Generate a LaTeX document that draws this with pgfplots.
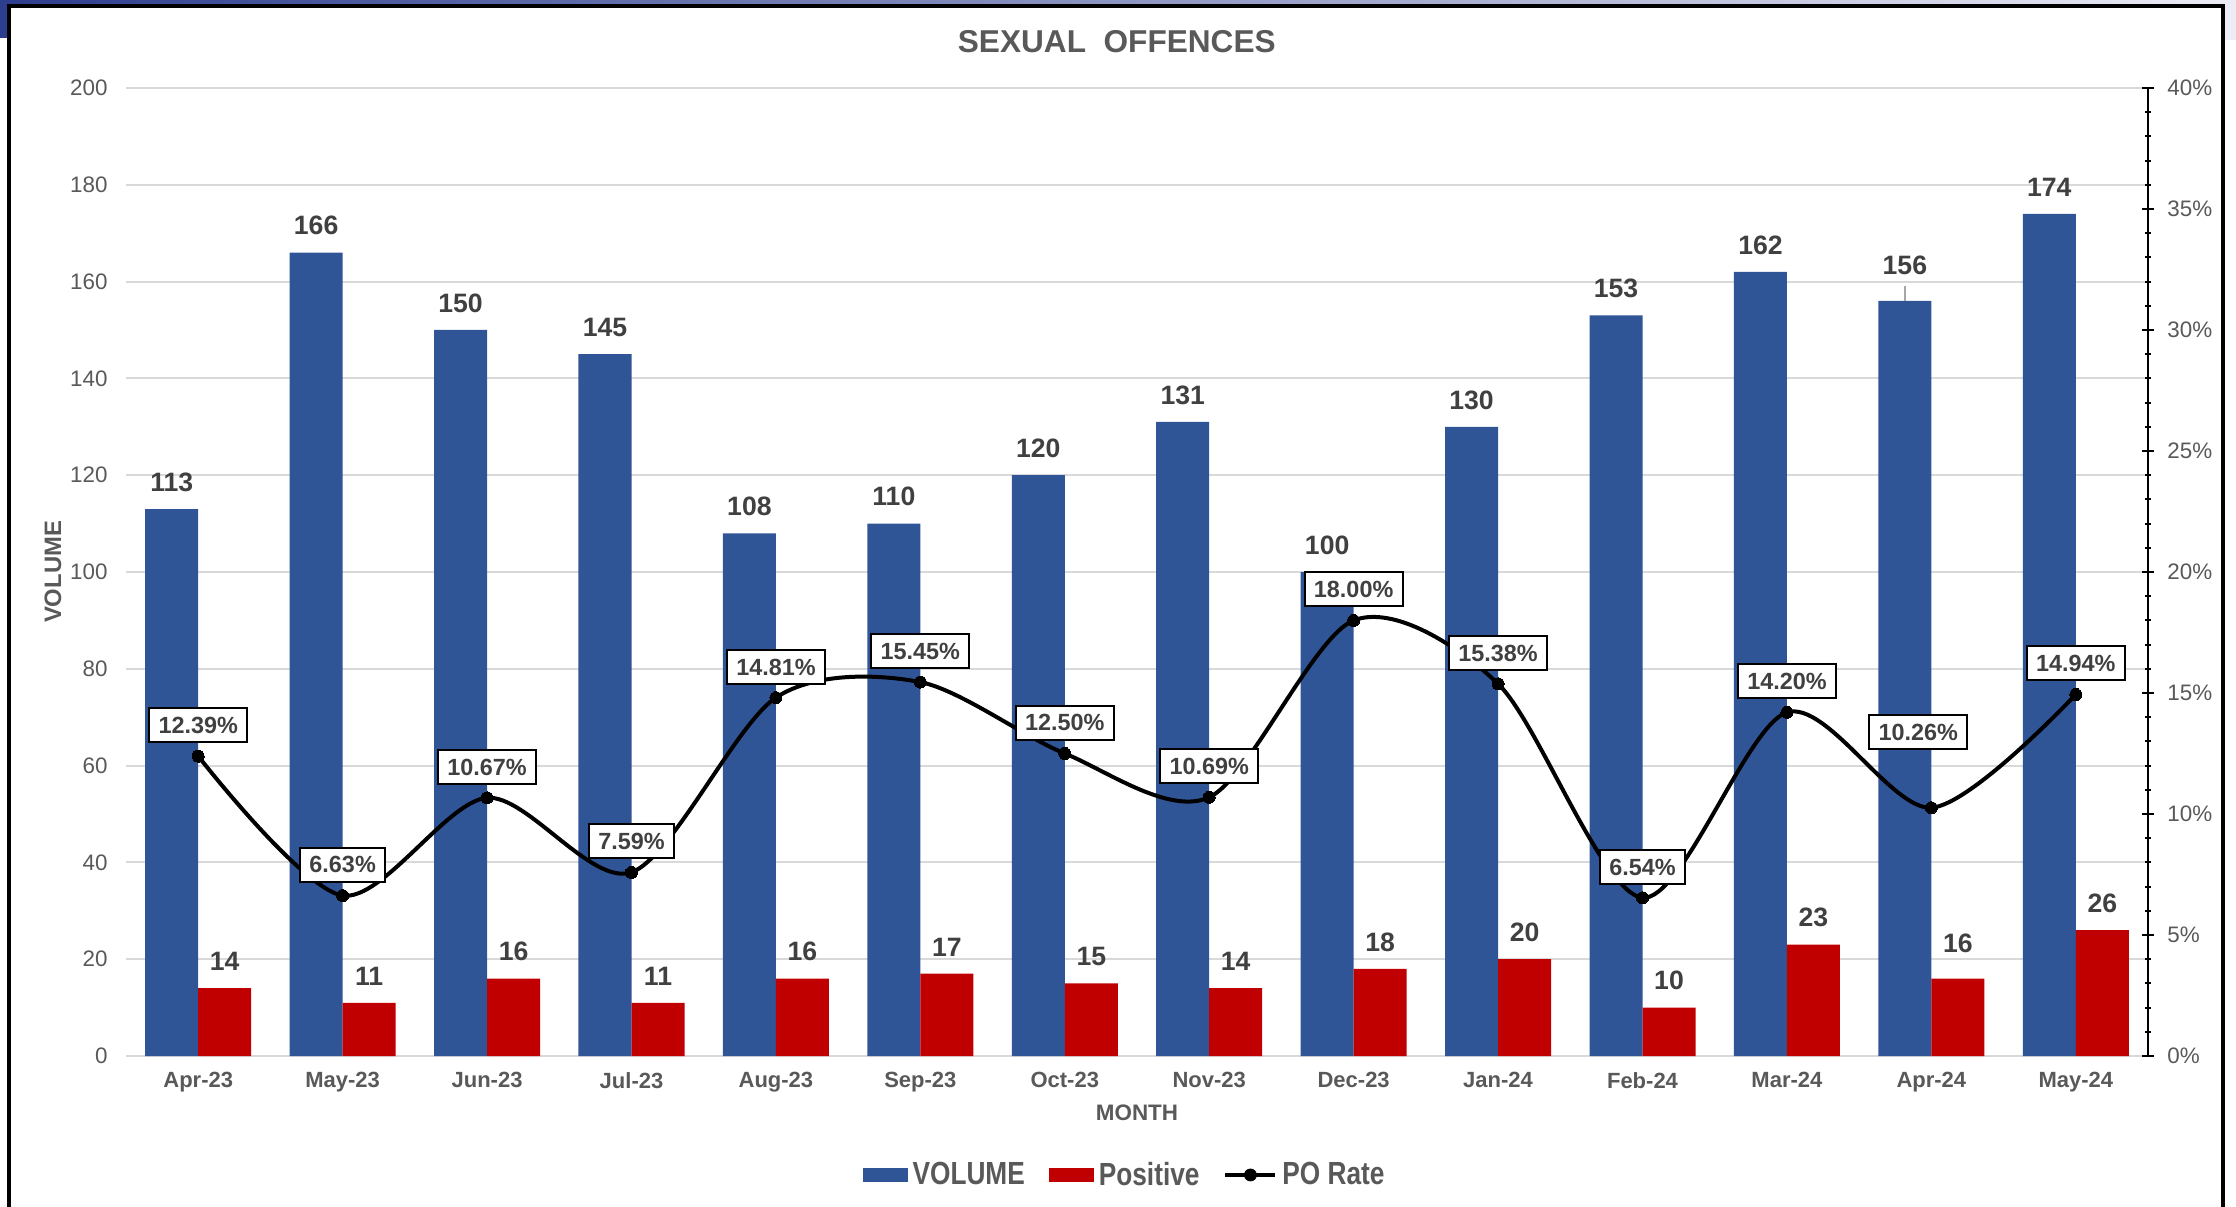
\documentclass[border=0pt]{standalone}
\usepackage{pgfplots}
\pgfplotsset{compat=1.18}
\usepackage{pgfplotstable}
\usepackage{graphicx}
\usepackage{fontspec}
\setmainfont{Liberation Sans}

\definecolor{volblue}{HTML}{2F5597}
\definecolor{posred}{HTML}{C00000}
\definecolor{gridgray}{HTML}{D9D9D9}
\definecolor{txtgray}{HTML}{595959}
\definecolor{lblgray}{HTML}{404040}
\definecolor{navy}{HTML}{2E3E8E}
\definecolor{lav}{HTML}{ECECF5}

% monthly counts, dy = label lift in pt
\pgfplotstableread{
x  vol pos dy
0  113 14 8.5
1  166 11 8.5
2  150 16 8.5
3  145 11 8.5
4  108 16 8.5
5  110 17 8.5
6  120 15 8.5
7  131 14 8.5
8  100 18 8.5
9  130 20 8.5
10 153 10 8.5
11 162 23 8.5
12 156 16 12.75
13 174 26 8.5
}\sexdata

% PO rate in percent, label offsets in pt
\pgfplotstableread{
x  rate  dy  dx
0  12.39 6.5 0
1  6.63  6.5 0
2  10.67 6.5 0
3  7.59  6.5 0
4  14.81 6.5 0
5  15.45 6.5 0
6  12.50 6.5 0
7  10.69 6.5 0
8  18.00 6.5 0
9  15.38 6.5 0
10 6.54  6.5 0
11 14.20 6.5 0
12 10.26 29  -6.5
13 14.94 6.5 0
}\ratedata

\begin{document}
\begin{tikzpicture}
\useasboundingbox (0pt,0pt) rectangle (1118pt,603pt);
\shade[left color=navy, right color=lav] (0pt,600pt) rectangle (1118pt,603pt);
\fill[navy] (0pt,584pt) rectangle (4.5pt,603pt);
\fill[lav] (1112.5pt,583pt) rectangle (1118pt,600pt);
\draw[black, line width=2pt] (4.5pt,-2pt) -- (4.5pt,600pt) -- (1111.5pt,600pt) -- (1111.5pt,-2pt);

\begin{axis}[
  at={(63pt,75pt)}, anchor=south west,
  scale only axis, width=1011pt, height=484pt,
  xmin=-0.5, xmax=13.5, ymin=0, ymax=200,
  xtick={0,...,13},
  xticklabels={Apr-23,May-23,Jun-23,Jul-23,Aug-23,Sep-23,Oct-23,Nov-23,Dec-23,Jan-24,Feb-24,Mar-24,Apr-24,May-24},
  ytick={0,20,...,200},
  axis x line*=bottom, axis y line*=left,
  x axis line style={draw=none}, y axis line style={draw=none},
  major tick length=0pt,
  ymajorgrids, grid style={gridgray, line width=1pt},
  /pgf/number format/assume math mode=true,
  yticklabel style={font=\fontsize{11.2}{13}\selectfont, text=txtgray, inner sep=0pt, anchor=east, xshift=-9pt},
  xticklabel style={font=\fontsize{11}{13}\selectfont\bfseries, text=txtgray, inner sep=0pt, anchor=north, yshift=-8pt},
  title={SEXUAL\ \ OFFENCES},
  title style={at={(axis description cs:0.490,1.0354)}, anchor=center, font=\fontsize{15.8}{18}\selectfont\bfseries, text=txtgray},
  xlabel={MONTH},
  xlabel style={at={(axis description cs:0.5,-0.0589)}, anchor=center, font=\fontsize{11.2}{13}\selectfont\bfseries, text=txtgray},
  ylabel={VOLUME},
  ylabel style={at={(axis description cs:-0.0361,0.5)}, anchor=center, font=\fontsize{11.9}{13}\selectfont\bfseries, text=txtgray},
  legend style={at={(axis description cs:0.4946,-0.1229)}, anchor=center, draw=none,
    legend columns=3, font=\fontsize{16}{18}\selectfont\bfseries, text=txtgray,
    /tikz/every even column/.append style={column sep=9.5pt},
    nodes={inner xsep=2.5pt}},
  legend cell align=left,
  nodes near coords,
  nodes near coords style={font=\fontsize{13.3}{15}\selectfont\bfseries, text=lblgray, inner sep=0pt, anchor=south, yshift=\dy pt},
  visualization depends on={\thisrow{dy} \as \dy},
]
\addplot[ybar, bar width=0.367, bar shift=-0.1835, fill=volblue, draw=none,
  every node near coord/.append style={xshift=-13.25pt},
  legend image code/.code={\fill[volblue] (0pt,-3.6pt) rectangle (22.5pt,3.6pt);}]
  table[x=x, y=vol] {\sexdata};
\addlegendentry{\scalebox{0.82}[1]{VOLUME}}
\addplot[ybar, bar width=0.367, bar shift=0.1835, fill=posred, draw=none,
  every node near coord/.append style={xshift=13.25pt},
  legend image code/.code={\fill[posred] (0pt,-3.6pt) rectangle (22.5pt,3.6pt);}]
  table[x=x, y=pos] {\sexdata};
\addlegendentry{\scalebox{0.82}[1]{Positive}}
\addlegendimage{legend image code/.code={\draw[black, line width=2pt] (0pt,0pt) -- (25pt,0pt); \fill[black] (12.5pt,0pt) circle (3pt);}}
\addlegendentry{\scalebox{0.82}[1]{PO Rate}}
\draw[gray!70, line width=1pt] (axis cs:11.8165,156) -- ++(0pt,7.5pt);
\end{axis}

\begin{axis}[
  at={(63pt,75pt)}, anchor=south west,
  scale only axis, width=1011pt, height=484pt,
  xmin=-0.5, xmax=13.5, ymin=0, ymax=40,
  axis x line=none, xtick=\empty,
  axis y line*=right,
  y axis line style={black, line width=1pt},
  ytick={0,5,...,40}, minor y tick num=4,
  ytick align=center,
  major tick length=6pt, minor tick length=3pt,
  every tick/.style={black, line width=1pt},
  /pgf/number format/assume math mode=true,
  yticklabel={\pgfmathprintnumber{\tick}\%},
  yticklabel style={font=\fontsize{11.2}{13}\selectfont, text=txtgray, inner sep=0pt, anchor=west, xshift=6.5pt},
  clip=false,
]
\addplot[black, line width=2pt, smooth, tension=0.5, mark=*, mark size=3pt, mark options={fill=black, line width=0pt},
  point meta=y,
  visualization depends on={\thisrow{dy} \as \dy},
  visualization depends on={\thisrow{dx} \as \dx},
  nodes near coords={\pgfmathprintnumber[fixed,fixed zerofill,precision=2]{\pgfplotspointmeta}\%},
  nodes near coords style={font=\fontsize{11.7}{13}\selectfont\bfseries, text=lblgray, draw=black, line width=1pt,
    fill=white, inner xsep=4.6pt, inner ysep=4.1pt, text height=8.6pt, text depth=0.2pt,
    anchor=south, yshift=\dy pt, xshift=\dx pt}]
  table[x=x, y=rate] {\ratedata};
\end{axis}
\end{tikzpicture}
\end{document}
